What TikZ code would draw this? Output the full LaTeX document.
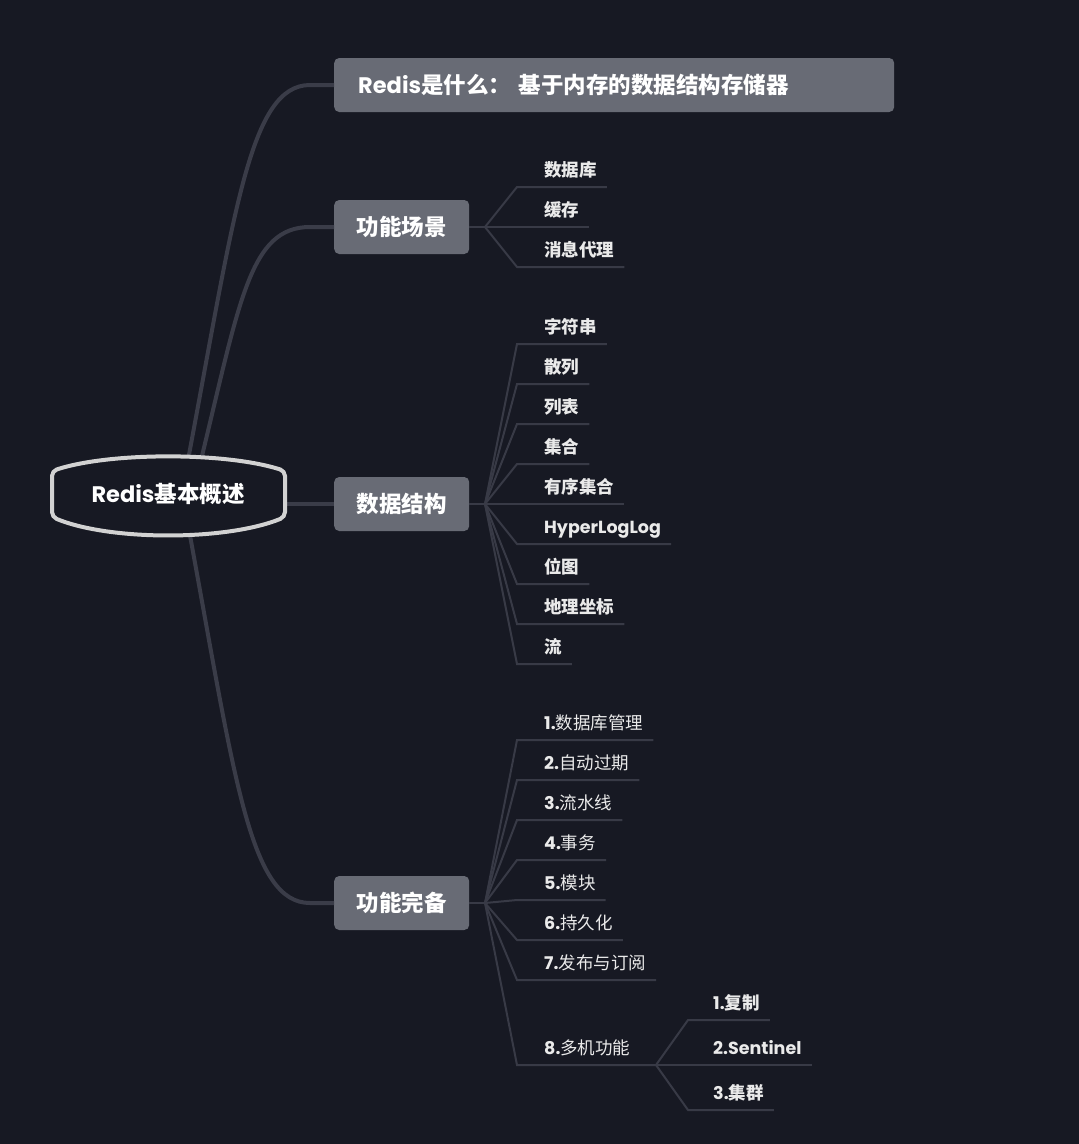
\documentclass[tikz,border=0pt]{standalone}
\usepackage{fontspec}
\newfontfamily\lat{Poppins}
\newfontfamily\cjk{Noto Sans CJK SC}
\usetikzlibrary{calc}
\definecolor{bg}{HTML}{171923}
\definecolor{boxc}{HTML}{686B75}
\definecolor{mainln}{HTML}{3A3C48}
\definecolor{subln}{HTML}{383A46}
\definecolor{rootln}{HTML}{D2D2D2}
\definecolor{leaftxt}{HTML}{EAEAEA}
\newcommand\Lt[1]{{\lat #1}}
\begin{document}
\begin{tikzpicture}[x=1pt,y=-1pt,
  mainline/.style={draw=mainln,line width=4pt},
  subline/.style={draw=subln,line width=2pt},
  topic/.style={fill=boxc,rounded corners=5pt,minimum height=54pt,minimum width=135pt,inner sep=0pt,text=white,font=\cjk\bfseries\fontsize{22.5}{26}\selectfont,anchor=west},
  leaf/.style={inner sep=0pt,text height=13pt,text depth=0pt,anchor=west,text=leaftxt,font=\cjk\bfseries\fontsize{17.5}{20}\selectfont},
  leafn/.style={leaf,font=\cjk\fontsize{17.5}{20}\selectfont},
]
\fill[bg] (0,0) rectangle (1079,1144);
\useasboundingbox (0,0) rectangle (1079,1144);

% level-1 topics
\node[topic,text width=512pt,inner xsep=24pt,align=left] (f0) at (334,85) {\Lt{Redis}是什么： 基于内存的数据结构存储器};
\node[topic] (f1) at (334,227) {功能场景};
\node[topic] (f2) at (334,504) {数据结构};
\node[topic] (f3) at (334,903) {功能完备};

% root connectors
\coordinate (r0) at (188,460);
\coordinate (r1) at (201,460);
\coordinate (r2) at (284,504);
\coordinate (r3) at (189,530);
\draw[mainline] (r0) .. controls (235,210) and (250,85) .. (310,85) -- (f0.west);
\draw[mainline] (r1) .. controls (240,300) and (250,227) .. (310,227) -- (f1.west);
\draw[mainline] (r2) -- (f2.west);
\draw[mainline] (r3) .. controls (235,780) and (250,903) .. (310,903) -- (f3.west);

% root
\draw[rootln,line width=4pt,fill=bg,rounded corners=5pt]
  (52,494) -- (52,471) .. controls (110,452) and (226,452) .. (285,471)
  -- (285,517) .. controls (226,541) and (110,541) .. (52,517) -- cycle;
\node[text=white,font=\cjk\bfseries\fontsize{22.5}{26}\selectfont] (root) at (168,494) {\Lt{Redis}基本概述};

% 功能场景
\coordinate (j1) at (485,227);
\draw[subline] (f1.east) -- (j1);
\foreach \i/\t/\u in {1/数据库/187,2/缓存/227,3/消息代理/267}{
  \node[leaf] (a\i) at (544,\u-17) {\t};
  \draw[subline] (j1) -- (517,\u) -- ($(a\i.east)+(10,17)$);
}

% 数据结构
\coordinate (j2) at (485,504);
\draw[subline] (f2.east) -- (j2);
\foreach \i/\t/\u in {1/字符串/344,2/散列/384,3/列表/424,4/集合/464,5/有序集合/504,6/{\Lt{HyperLogLog}}/544,7/位图/584,8/地理坐标/624,9/流/664}{
  \node[leaf] (d\i) at (544,\u-17) {\t};
  \draw[subline] (j2) -- (517,\u) -- ($(d\i.east)+(10,17)$);
}

% 功能完备
\coordinate (j3) at (485,903);
\draw[subline] (f3.east) -- (j3);
\foreach \i/\t/\u in {1/数据库管理/740,2/自动过期/780,3/流水线/820,4/事务/860,5/模块/900,6/持久化/940,7/发布与订阅/980}{
  \node[leafn] (g\i) at (544,\u-17) {\Lt{\bfseries\i.}\t};
  \draw[subline] (j3) -- (517,\u) -- ($(g\i.east)+(10,17)$);
}
\node[leafn] (g8) at (544,1048) {\Lt{\bfseries 8.}多机功能};
\coordinate (j4) at (656,1065);
\draw[subline] (j3) -- (517,1065) -- (j4);

% 多机功能
\foreach \i/\t/\u in {1/复制/1020,2/{\Lt{Sentinel}}/1065,3/集群/1110}{
  \node[leaf] (h\i) at (713,\u-17) {\Lt{\i.}\t};
  \draw[subline] (j4) -- (688,\u) -- ($(h\i.east)+(10,17)$);
}
\end{tikzpicture}
\end{document}
